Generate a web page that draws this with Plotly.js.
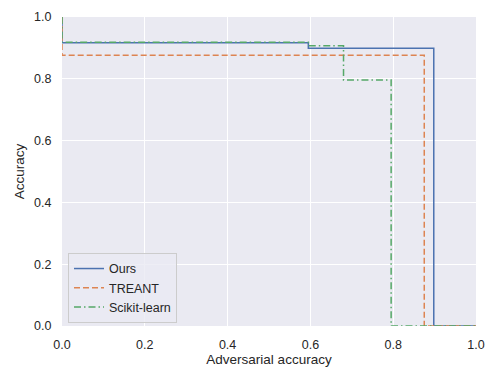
<!DOCTYPE html>
<html>
<head>
<meta charset="utf-8">
<script src="https://cdn.plot.ly/plotly-3.0.1.min.js"></script>
<style>html,body{margin:0;padding:0;background:#fff;}#chart{width:492px;height:369px;}</style>
</head>
<body>
<div id="chart"></div>
<script>
const seriesNames = ["Ours", "TREANT", "Scikit-learn"];
const oursX = [0, 0, 0.595, 0.595, 0.898, 0.898, 1.0];
const oursY = [1.0, 0.917, 0.917, 0.899, 0.899, 0, 0];
const treantX = [0, 0, 0.875, 0.875, 1.0];
const treantY = [1.0, 0.876, 0.876, 0, 0];
const sklearnX = [0, 0, 0.595, 0.595, 0.68, 0.68, 0.795, 0.795, 1.0];
const sklearnY = [1.0, 0.918, 0.918, 0.907, 0.907, 0.796, 0.796, 0, 0];
const tickVals = [0, 0.2, 0.4, 0.6, 0.8, 1.0];
const tickText = ["0.0", "0.2", "0.4", "0.6", "0.8", "1.0"];

const font = "Liberation Sans, Arial, sans-serif";
const traces = [
  {x: oursX, y: oursY, name: seriesNames[0], mode: "lines",
   line: {color: "#4c72b0", width: 1.5, dash: "solid"}},
  {x: treantX, y: treantY, name: seriesNames[1], mode: "lines",
   line: {color: "#dd8452", width: 1.5, dash: "6px,3px"}},
  {x: sklearnX, y: sklearnY, name: seriesNames[2], mode: "lines",
   line: {color: "#55a868", width: 1.5, dash: "7px,3px,1.5px,3px"}}
];
const axisCommon = {
  range: [0, 1], tickvals: tickVals, ticktext: tickText,
  showgrid: true, gridcolor: "#ffffff", gridwidth: 1,
  zeroline: false, showline: false,
  ticks: "outside", ticklen: 7, tickcolor: "rgba(0,0,0,0)",
  tickfont: {family: font, size: 12.5, color: "#262626"},
  fixedrange: true
};
const layout = {
  width: 492, height: 369,
  margin: {l: 62, r: 16, t: 17, b: 43},
  paper_bgcolor: "#ffffff", plot_bgcolor: "#eaeaf2",
  font: {family: font, color: "#262626"},
  xaxis: Object.assign({}, axisCommon, {title: {text: "Adversarial accuracy", font: {family: font, size: 13.5, color: "#262626"}, standoff: 3}}),
  yaxis: Object.assign({}, axisCommon, {title: {text: "Accuracy", font: {family: font, size: 13.5, color: "#262626"}, standoff: 6}}),
  showlegend: true,
  legend: {x: 0.0145, y: 0.01, xanchor: "left", yanchor: "bottom",
    bgcolor: "rgba(234,234,242,0.8)", bordercolor: "#cccccc", borderwidth: 1,
    font: {family: font, size: 12.5, color: "#262626"}, tracegroupgap: 0}
};
Plotly.newPlot("chart", traces, layout, {displayModeBar: false, staticPlot: true});
</script>
</body>
</html>
